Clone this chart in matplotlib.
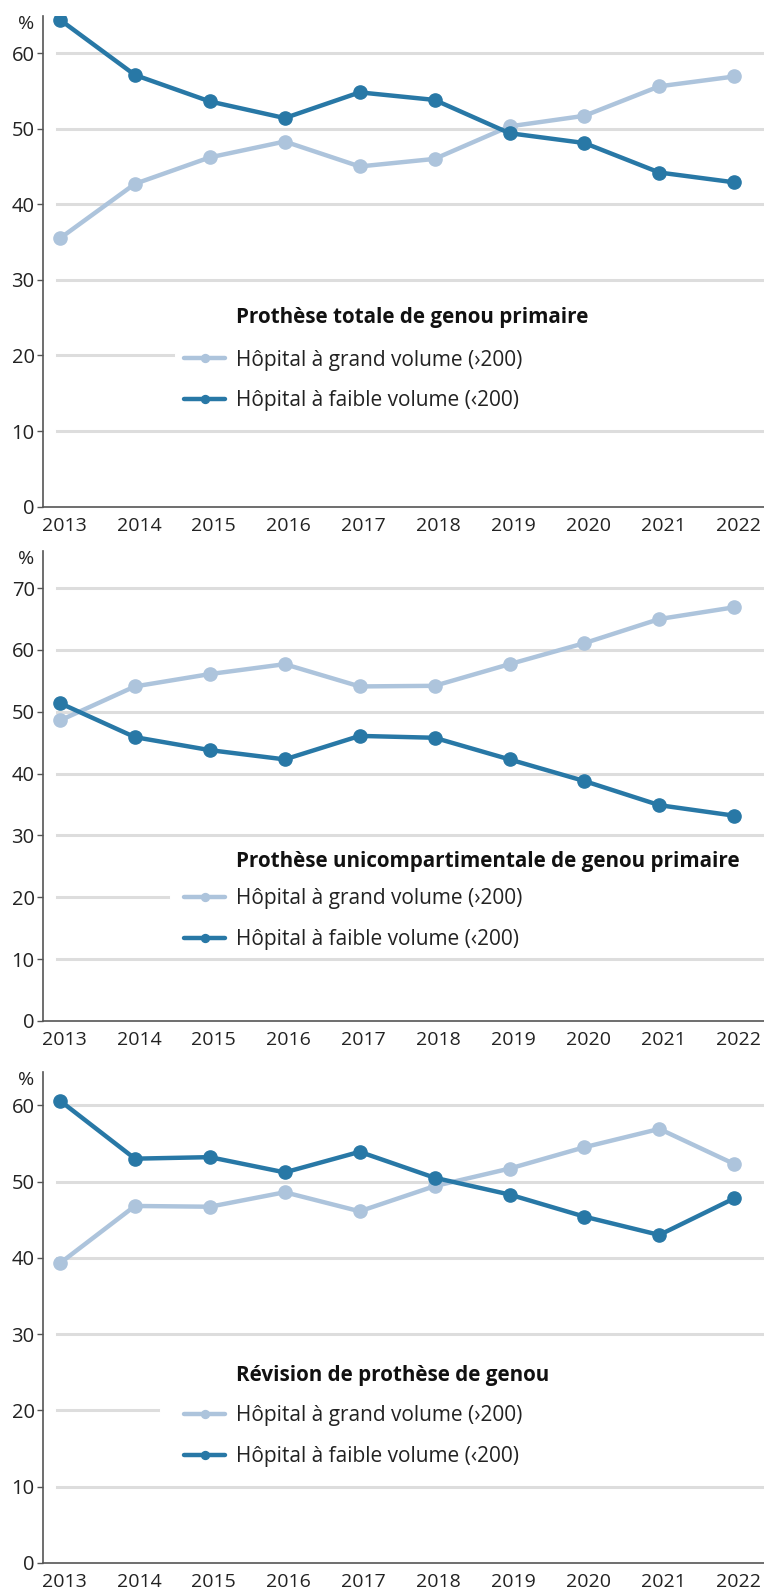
import numpy as np
import matplotlib
matplotlib.use('Agg')
import matplotlib.pyplot as plt
import matplotlib.transforms as mtransforms

plt.rcParams['font.family'] = ['Open Sans', 'DejaVu Sans']

# données : part des interventions (%) par type d'hôpital
annees = [2013, 2014, 2015, 2016, 2017, 2018, 2019, 2020, 2021, 2022]

titres = ['Prothèse totale de genou primaire',
          'Prothèse unicompartimentale de genou primaire',
          'Révision de prothèse de genou']

grand_ptg = [35.5, 42.7, 46.2, 48.3, 45.0, 46.0, 50.3, 51.7, 55.6, 56.9]
faible_ptg = [64.4, 57.1, 53.6, 51.4, 54.8, 53.8, 49.4, 48.1, 44.2, 42.9]

grand_uni = [48.6, 54.1, 56.1, 57.7, 54.1, 54.2, 57.7, 61.1, 65.0, 66.9]
faible_uni = [51.4, 45.9, 43.8, 42.3, 46.1, 45.8, 42.3, 38.8, 34.9, 33.2]

grand_rev = [39.3, 46.8, 46.7, 48.6, 46.1, 49.4, 51.7, 54.5, 56.9, 52.3]
faible_rev = [60.6, 53.0, 53.2, 51.2, 53.9, 50.5, 48.3, 45.4, 43.0, 47.8]

label_grand = 'Hôpital à grand volume (›200)'
label_faible = 'Hôpital à faible volume (‹200)'

C_GRAND = '#adc4dc'
C_FAIBLE = '#2878a6'
C_GRILLE = '#dddddd'
C_AXE = '#555555'

W, H = 764, 1590
fig = plt.figure(figsize=(W / 100, H / 100), dpi=100)


def px(x, y):
    # pixels (depuis le coin haut gauche) -> fraction de la figure
    return x / W, 1 - y / H


# position des panneaux en pixels : haut, bas (axe des x), y max, ticks, fin de la ligne 20
panneaux = [
    dict(haut=16, bas=506.7, ymax=64.9, ticks=[0, 10, 20, 30, 40, 50, 60],
         coupe=173, titre_y=318, leg_y=380.5, grand=grand_ptg, faible=faible_ptg),
    dict(haut=551, bas=1021, ymax=76, ticks=[0, 10, 20, 30, 40, 50, 60, 70],
         coupe=168, titre_y=861, leg_y=919, grand=grand_uni, faible=faible_uni),
    dict(haut=1071.7, bas=1563, ymax=64.4, ticks=[0, 10, 20, 30, 40, 50, 60],
         coupe=158, titre_y=1375.5, leg_y=1436, grand=grand_rev, faible=faible_rev),
]

# petit décalage des années vers la droite
decale = mtransforms.ScaledTranslation(4 / 100, 0, fig.dpi_scale_trans)

gauche = 43
for p, titre in zip(panneaux, titres):
    x0, y0 = px(gauche, p['bas'])
    ax = fig.add_axes([x0, y0, 1 - x0, (p['bas'] - p['haut']) / H])
    ax.set_xlim(2012.773, 2022.397)
    ax.set_ylim(0, p['ymax'])

    # lignes de grille horizontales (la ligne 20 s'arrête avant la légende)
    debut = 14 / (W - gauche)
    for t in p['ticks'][1:]:
        fin = (p['coupe'] - gauche) / (W - gauche) if t == 20 else 1.0
        ax.axhline(t, xmin=debut, xmax=fin, color=C_GRILLE, lw=2.2, zorder=0)

    ax.plot(annees, p['grand'], color=C_GRAND, lw=3.2, marker='o', ms=9.5,
            label=label_grand, zorder=2, solid_capstyle='round')
    ax.plot(annees, p['faible'], color=C_FAIBLE, lw=3.2, marker='o', ms=9.5,
            label=label_faible, zorder=3, solid_capstyle='round')

    ax.set_xticks(annees)
    ax.set_yticks(p['ticks'])
    ax.tick_params(axis='x', length=0, pad=7.5, labelsize=14, colors='#222222')
    ax.tick_params(axis='y', length=4.5, width=1, pad=1.5, labelsize=14.5,
                   colors=C_AXE, labelcolor='#222222')
    for lab in ax.get_xticklabels():
        lab.set_transform(lab.get_transform() + decale)
    for s in ['top', 'right']:
        ax.spines[s].set_visible(False)
    for s in ['left', 'bottom']:
        ax.spines[s].set_color(C_AXE)
        ax.spines[s].set_linewidth(1.2)

    # unité en haut de l'axe
    fig.text(*px(26, p['haut'] + 8), '%', ha='center', va='center',
             fontsize=14, color='#222222')

    # titre du panneau et légende
    fig.text(*px(236, p['titre_y']), titre, ha='left', va='center',
             fontsize=14.9, fontweight='bold', color='#111111')
    ax.legend(loc='center left', bbox_to_anchor=px(184, p['leg_y']),
              bbox_transform=fig.transFigure, frameon=False, fontsize=15,
              handlelength=1.97, handletextpad=0.53, labelspacing=0.95,
              borderpad=0, borderaxespad=0, markerscale=0.6,
              labelcolor='#222222')

fig.savefig('out.png', dpi=100)
